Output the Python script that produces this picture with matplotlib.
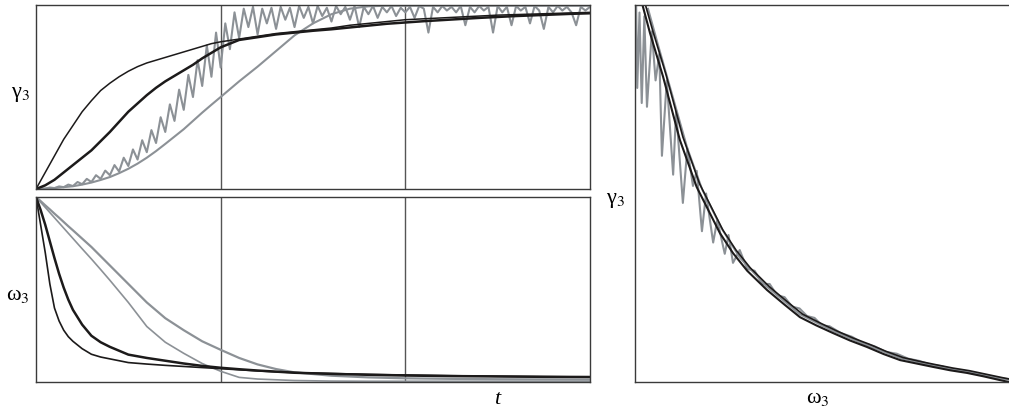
import numpy as np
import matplotlib
matplotlib.use("Agg")
import matplotlib.pyplot as plt

plt.rcParams["font.family"] = ["Liberation Serif", "DejaVu Serif"]
plt.rcParams["mathtext.fontset"] = "stix"

# ============================================
# Data
# ============================================

# top-left panel: gamma_3 vs t
t_top = [0, 0.05, 0.1, 0.15, 0.2, 0.25, 0.3, 0.35, 0.4, 0.45, 0.5, 0.55, 0.6,
         0.65, 0.7, 0.75, 0.8, 0.85, 0.9, 0.95, 1.0, 1.1, 1.2, 1.3, 1.4, 1.5,
         1.6, 1.7, 1.8, 1.9, 2.0, 2.1, 2.2, 2.3, 2.4, 2.5, 2.6, 2.7, 2.8, 2.9, 3.0]
gam_fast = [0.0, 0.09, 0.18, 0.27, 0.345, 0.42, 0.48, 0.535, 0.575, 0.61, 0.64,
            0.665, 0.685, 0.70, 0.715, 0.73, 0.745, 0.76, 0.775, 0.79, 0.80,
            0.815, 0.83, 0.845, 0.855, 0.865, 0.875, 0.89, 0.90, 0.91, 0.92,
            0.925, 0.93, 0.935, 0.94, 0.945, 0.948, 0.951, 0.954, 0.957, 0.96]
gam_mid = [0.0, 0.02, 0.05, 0.09, 0.13, 0.17, 0.21, 0.26, 0.31, 0.365, 0.42,
           0.465, 0.51, 0.55, 0.585, 0.615, 0.645, 0.675, 0.71, 0.74, 0.77,
           0.81, 0.825, 0.84, 0.85, 0.86, 0.868, 0.878, 0.888, 0.898, 0.905,
           0.912, 0.918, 0.924, 0.93, 0.935, 0.94, 0.944, 0.948, 0.952, 0.955]
gam_slow = [0.0, 0.002, 0.005, 0.01, 0.015, 0.024, 0.035, 0.049, 0.065, 0.086, 0.11,
            0.138, 0.17, 0.206, 0.245, 0.285, 0.325, 0.37, 0.415, 0.458, 0.50,
            0.585, 0.665, 0.75, 0.835, 0.90, 0.95, 0.98, 0.993, 0.996, 0.996,
            0.996, 0.996, 0.996, 0.996, 0.996, 0.996, 0.996, 0.996, 0.996, 0.996]

# noisy run (sampled every 0.025)
t_noisy = np.linspace(0, 3, 121)
gam_noisy = [0.000, 0.004, 0.002, 0.008, 0.005, 0.014, 0.010, 0.024, 0.016, 0.038,
             0.026, 0.055, 0.038, 0.075, 0.055, 0.100, 0.075, 0.130, 0.095, 0.170,
             0.125, 0.215, 0.160, 0.265, 0.200, 0.320, 0.250, 0.390, 0.310, 0.460,
             0.370, 0.540, 0.430, 0.620, 0.500, 0.700, 0.560, 0.780, 0.610, 0.850,
             0.660, 0.900, 0.760, 0.960, 0.820, 0.980, 0.880, 0.990, 0.840, 0.980,
             0.900, 0.985, 0.870, 0.990, 0.920, 0.985, 0.880, 0.995, 0.930, 0.990,
             0.900, 0.995, 0.940, 0.985, 0.910, 0.995, 0.950, 0.990, 0.920, 0.995,
             0.880, 0.990, 0.950, 0.995, 0.930, 0.990, 0.960, 0.995, 0.940, 0.985,
             0.960, 0.990, 0.930, 0.995, 0.980, 0.850, 0.990, 0.960, 0.995, 0.970,
             0.990, 0.960, 0.995, 0.890, 0.990, 0.960, 0.995, 0.970, 0.990, 0.850,
             0.995, 0.960, 0.990, 0.890, 0.995, 0.970, 0.990, 0.900, 0.995, 0.970,
             0.870, 0.990, 0.960, 0.995, 0.970, 0.990, 0.960, 0.890, 0.990, 0.970,
             0.990]

# bottom-left panel: omega_3 vs t
t_bot = [0, 0.025, 0.05, 0.075, 0.1, 0.125, 0.15, 0.175, 0.2, 0.25, 0.3, 0.35,
         0.4, 0.5, 0.6, 0.7, 0.8, 0.9, 1.0, 1.1, 1.2, 1.3, 1.4, 1.6, 1.8, 2.0,
         2.25, 2.5, 2.75, 3.0]
om_fast = [1.0, 0.85, 0.70, 0.53, 0.40, 0.33, 0.28, 0.245, 0.22, 0.18, 0.15,
           0.135, 0.125, 0.105, 0.097, 0.09, 0.084, 0.078, 0.072, 0.066, 0.060,
           0.055, 0.051, 0.046, 0.041, 0.038, 0.034, 0.031, 0.029, 0.027]
om_mid = [1.0, 0.93, 0.85, 0.76, 0.67, 0.585, 0.51, 0.445, 0.39, 0.31, 0.25,
          0.215, 0.19, 0.148, 0.13, 0.115, 0.10, 0.087, 0.077, 0.069, 0.062,
          0.056, 0.050, 0.044, 0.039, 0.035, 0.032, 0.030, 0.028, 0.027]
om_step = [1.0, 0.972, 0.944, 0.916, 0.888, 0.86, 0.832, 0.804, 0.776, 0.72, 0.665,
           0.608, 0.55, 0.43, 0.30, 0.215, 0.155, 0.10, 0.058, 0.025, 0.016,
           0.012, 0.008, 0.005, 0.004, 0.004, 0.004, 0.004, 0.004, 0.004]
om_slow = [1.0, 0.978, 0.955, 0.933, 0.91, 0.888, 0.865, 0.842, 0.82, 0.775, 0.73,
           0.68, 0.63, 0.53, 0.43, 0.345, 0.28, 0.22, 0.174, 0.13, 0.095,
           0.07, 0.052, 0.034, 0.025, 0.02, 0.017, 0.015, 0.014, 0.013]

# right panel: gamma_3 vs omega_3 (both scaled 0..1)
ph_x1 = [0.02, 0.04, 0.075, 0.12, 0.165, 0.227, 0.262, 0.30, 0.353, 0.40, 0.441,
         0.485, 0.529, 0.575, 0.620, 0.665, 0.709, 0.753, 0.797, 0.843, 0.888,
         0.932, 0.976, 1.0]
ph_y1 = [1.0, 0.926, 0.81, 0.642, 0.517, 0.395, 0.342, 0.295, 0.244, 0.205, 0.172,
         0.15, 0.130, 0.11, 0.093, 0.074, 0.058, 0.049, 0.040, 0.031, 0.024,
         0.015, 0.005, 0.0]
ph_x2 = [0.028, 0.048, 0.083, 0.128, 0.173, 0.235, 0.27, 0.308, 0.36, 0.407, 0.448,
         0.492, 0.536, 0.582, 0.627, 0.672, 0.716, 0.76, 0.804, 0.85, 0.894,
         0.937, 0.98, 1.0]
ph_y2 = [1.0, 0.93, 0.815, 0.65, 0.525, 0.403, 0.35, 0.303, 0.252, 0.213, 0.18,
         0.158, 0.137, 0.117, 0.10, 0.081, 0.065, 0.055, 0.046, 0.037, 0.03,
         0.021, 0.012, 0.008]
ph_xs = [0.035, 0.06, 0.10, 0.14, 0.18, 0.23, 0.28, 0.35, 0.44, 0.53, 0.62,
         0.71, 0.80, 0.89, 0.98, 1.0]
ph_ys = [0.99, 0.90, 0.76, 0.62, 0.51, 0.41, 0.33, 0.255, 0.18, 0.135, 0.097,
         0.063, 0.043, 0.027, 0.01, 0.006]
ph_xn = [0.003, 0.006, 0.012, 0.018, 0.025, 0.032, 0.045, 0.055, 0.065, 0.072,
         0.085, 0.102, 0.11, 0.128, 0.14, 0.155, 0.165, 0.179, 0.19, 0.209,
         0.22, 0.24, 0.25, 0.262, 0.28, 0.30, 0.32, 0.34, 0.36, 0.38, 0.40,
         0.42, 0.44, 0.46, 0.48, 0.50, 0.52, 0.55, 0.58, 0.61, 0.64, 0.67,
         0.70, 0.73, 0.76, 0.79, 0.82, 0.85, 0.88, 0.91, 0.94, 0.97, 1.0]
ph_yn = [1.0, 0.78, 0.98, 0.74, 0.97, 0.73, 0.93, 0.80, 0.87, 0.60,
         0.80, 0.55, 0.72, 0.475, 0.62, 0.52, 0.56, 0.40, 0.50, 0.37,
         0.43, 0.34, 0.39, 0.316, 0.35, 0.30, 0.295, 0.26, 0.26, 0.23, 0.225,
         0.20, 0.195, 0.175, 0.17, 0.15, 0.148, 0.13, 0.12, 0.103, 0.095, 0.08,
         0.075, 0.062, 0.056, 0.046, 0.042, 0.033, 0.03, 0.022, 0.018, 0.01, 0.008]

# ============================================
# Figure
# ============================================

BLACK = "#1c1a1a"
GRAY = "#8c9196"
FRAME = "#3a3a3a"
SERIF = ["Liberation Serif", "DejaVu Serif"]

fig = plt.figure(figsize=(10.09, 4.11), dpi=100)
ax_top = fig.add_axes([36 / 1009, 1 - 189 / 411, 554 / 1009, 184 / 411])
ax_bot = fig.add_axes([36 / 1009, 1 - 382 / 411, 554 / 1009, 185 / 411])
ax_r = fig.add_axes([635 / 1009, 1 - 382 / 411, 374 / 1009, 377 / 411])

# top-left
ax_top.plot(t_top, gam_slow, color=GRAY, lw=1.5)
ax_top.plot(t_noisy, gam_noisy, color=GRAY, lw=1.5)
ax_top.plot(t_top, gam_mid, color=BLACK, lw=1.8)
ax_top.plot(t_top, gam_fast, color=BLACK, lw=1.1)

# bottom-left
ax_bot.plot(t_bot, om_slow, color=GRAY, lw=1.6)
ax_bot.plot(t_bot, om_step, color=GRAY, lw=1.2)
ax_bot.plot(t_bot, om_mid, color=BLACK, lw=1.8)
ax_bot.plot(t_bot, om_fast, color=BLACK, lw=1.2)

for ax in (ax_top, ax_bot):
    ax.set_xlim(0, 3)
    ax.set_ylim(0, 1)
    for x in (1, 2):
        ax.axvline(x, color="#555555", lw=1.0, zorder=0)
    for s in ax.spines.values():
        s.set_color(FRAME)
        s.set_linewidth(1.0)
    ax.set_xticks([])
    ax.set_yticks([])

# right
ax_r.plot(ph_xn, ph_yn, color=GRAY, lw=1.5)
ax_r.plot(ph_xs, ph_ys, color=GRAY, lw=1.4)
ax_r.plot(ph_x1, ph_y1, color=BLACK, lw=1.5)
ax_r.plot(ph_x2, ph_y2, color=BLACK, lw=1.2)
ax_r.set_xlim(0, 1)
ax_r.set_ylim(0, 1)
ax_r.spines["right"].set_visible(False)
for s in ("left", "top", "bottom"):
    ax_r.spines[s].set_color(FRAME)
    ax_r.spines[s].set_linewidth(1.0)
ax_r.set_xticks([])
ax_r.set_yticks([])

# labels
fs = 16
fig.text(20 / 1009, 1 - 94 / 411, "γ$_3$", fontsize=fs, family=SERIF,
         ha="center", va="center")
fig.text(18 / 1009, 1 - 295 / 411, "ω$_3$", fontsize=fs, family=SERIF,
         ha="center", va="center")
fig.text(497 / 1009, 1 - 399 / 411, "t", fontsize=fs, family=SERIF,
         style="italic", ha="center", va="center")
fig.text(615 / 1009, 1 - 201 / 411, "γ$_3$", fontsize=fs, family=SERIF,
         ha="center", va="center")
fig.text(818 / 1009, 1 - 398 / 411, "ω$_3$", fontsize=fs, family=SERIF,
         ha="center", va="center")

fig.savefig("out.png", dpi=100)
